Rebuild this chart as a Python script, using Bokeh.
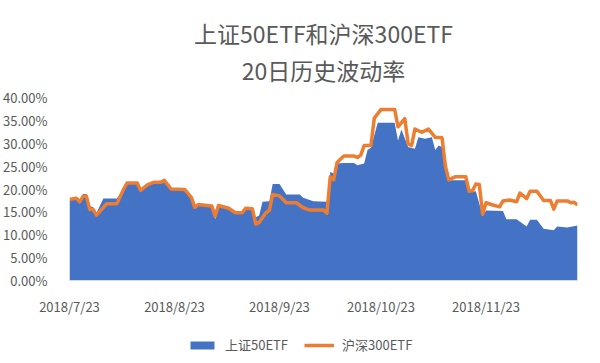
import pandas as pd
from bokeh.plotting import figure
from bokeh.layouts import column
from bokeh.models import Range1d, FixedTicker, NumeralTickFormatter, Title, Legend, LegendItem
from bokeh.embed import file_html
from bokeh.resources import INLINE

# ---- data ----
title_1 = "上证50ETF和沪深300ETF"
title_2 = "20日历史波动率"
name_sz50 = "上证50ETF"
name_hs300 = "沪深300ETF"

dates_hs300 = [
    "2018-07-23", "2018-07-25", "2018-07-26", "2018-07-27", "2018-07-28", "2018-07-29", "2018-07-30",
    "2018-07-31", "2018-08-03", "2018-08-06", "2018-08-08", "2018-08-09", "2018-08-12", "2018-08-13",
    "2018-08-15", "2018-08-17", "2018-08-19", "2018-08-20", "2018-08-22", "2018-08-26", "2018-08-28",
    "2018-08-29", "2018-08-30", "2018-09-03", "2018-09-04", "2018-09-05", "2018-09-08", "2018-09-10",
    "2018-09-12", "2018-09-13", "2018-09-15", "2018-09-16", "2018-09-17", "2018-09-19", "2018-09-20",
    "2018-09-21", "2018-09-23", "2018-09-25", "2018-09-28", "2018-09-30", "2018-10-02", "2018-10-06",
    "2018-10-07", "2018-10-08", "2018-10-09", "2018-10-10", "2018-10-12", "2018-10-15", "2018-10-16",
    "2018-10-17", "2018-10-18", "2018-10-20", "2018-10-21", "2018-10-23", "2018-10-27", "2018-10-28",
    "2018-10-30", "2018-10-31", "2018-11-01", "2018-11-02", "2018-11-04", "2018-11-06", "2018-11-08",
    "2018-11-10", "2018-11-11", "2018-11-12", "2018-11-14", "2018-11-17", "2018-11-18", "2018-11-19",
    "2018-11-20", "2018-11-21", "2018-11-22", "2018-11-23", "2018-11-25", "2018-11-27", "2018-11-28",
    "2018-11-30", "2018-12-02", "2018-12-03", "2018-12-05", "2018-12-06", "2018-12-08", "2018-12-10",
    "2018-12-12", "2018-12-13", "2018-12-14", "2018-12-17", "2018-12-18", "2018-12-19", "2018-12-20",
]
vol_hs300 = [
    17.7, 18.0, 17.2, 18.4, 18.4, 15.5, 15.5,
    14.3, 16.8, 16.8, 20.0, 21.3, 21.3, 19.7,
    20.9, 21.5, 21.5, 21.9, 20.0, 19.9, 18.1,
    16.0, 16.6, 16.3, 14.1, 16.4, 15.8, 14.8,
    14.8, 15.8, 15.7, 12.3, 12.7, 14.8, 15.3,
    18.8, 18.5, 17.0, 17.0, 15.9, 15.4, 15.4,
    14.7, 22.7, 22.0, 25.8, 27.2, 27.2, 26.9,
    27.4, 29.5, 29.5, 35.5, 37.4, 37.4, 33.6,
    35.4, 29.9, 29.5, 33.1, 32.4, 33.1, 31.3,
    31.2, 25.0, 22.0, 22.7, 22.7, 19.5, 19.6,
    21.1, 21.0, 14.5, 17.0, 16.5, 16.1, 17.4,
    17.6, 17.2, 19.1, 17.9, 19.5, 19.5, 17.5,
    17.5, 15.6, 17.4, 17.4, 17.0, 17.1, 16.5,
]

dates_sz50 = [
    "2018-07-23", "2018-07-25", "2018-07-26", "2018-07-27", "2018-07-28", "2018-07-29", "2018-07-30",
    "2018-07-31", "2018-08-02", "2018-08-06", "2018-08-08", "2018-08-09", "2018-08-12", "2018-08-13",
    "2018-08-15", "2018-08-17", "2018-08-19", "2018-08-20", "2018-08-22", "2018-08-26", "2018-08-28",
    "2018-08-29", "2018-08-30", "2018-09-03", "2018-09-04", "2018-09-05", "2018-09-08", "2018-09-10",
    "2018-09-12", "2018-09-13", "2018-09-15", "2018-09-16", "2018-09-17", "2018-09-18", "2018-09-20",
    "2018-09-21", "2018-09-23", "2018-09-25", "2018-09-29", "2018-09-30", "2018-10-03", "2018-10-07",
    "2018-10-08", "2018-10-09", "2018-10-10", "2018-10-12", "2018-10-15", "2018-10-16", "2018-10-18",
    "2018-10-19", "2018-10-20", "2018-10-22", "2018-10-27", "2018-10-28", "2018-10-29", "2018-10-31",
    "2018-11-02", "2018-11-03", "2018-11-05", "2018-11-07", "2018-11-08", "2018-11-09", "2018-11-10",
    "2018-11-11", "2018-11-12", "2018-11-17", "2018-11-18", "2018-11-20", "2018-11-22", "2018-11-23",
    "2018-11-28", "2018-11-29", "2018-12-02", "2018-12-05", "2018-12-06", "2018-12-08", "2018-12-10",
    "2018-12-13", "2018-12-14", "2018-12-17", "2018-12-20",
]
vol_sz50 = [
    17.6, 17.8, 17.0, 18.9, 18.9, 16.3, 16.0,
    14.8, 17.9, 17.9, 20.0, 21.5, 21.5, 19.6,
    20.9, 21.5, 21.5, 21.8, 19.8, 19.6, 18.0,
    16.0, 16.3, 16.2, 13.4, 16.2, 15.7, 14.8,
    14.8, 15.6, 15.5, 13.8, 14.2, 17.2, 17.3,
    21.1, 21.1, 18.8, 18.8, 18.1, 17.3, 17.2,
    23.7, 23.4, 25.6, 25.7, 25.7, 25.2, 25.6,
    28.5, 29.0, 34.5, 34.5, 30.6, 33.0, 29.2,
    28.8, 31.3, 31.0, 31.3, 28.5, 29.5, 29.2,
    24.5, 21.9, 21.9, 19.3, 19.5, 14.1, 15.3,
    15.2, 13.4, 13.4, 11.8, 13.3, 13.3, 11.3,
    11.0, 11.8, 11.6, 12.0,
]

x_start = "2018-07-23"
x_end = "2018-12-20"
tick_dates = ["2018-07-23", "2018-08-23", "2018-09-23", "2018-10-23", "2018-11-23"]
tick_labels = ["2018/7/23", "2018/8/23", "2018/9/23", "2018/10/23", "2018/11/23"]
y_ticks = [0.0, 0.05, 0.10, 0.15, 0.20, 0.25, 0.30, 0.35, 0.40]

# ---- styling ----
FONT = "Noto Sans CJK SC"
TXT = "#595959"
BLUE = "#4472C4"
ORANGE = "#ED7D31"

xh = pd.to_datetime(dates_hs300)
yh = [v / 100 for v in vol_hs300]
xs = pd.to_datetime(dates_sz50)
ys = [v / 100 for v in vol_sz50]

# ---------------- main chart ----------------
p = figure(
    width=584, height=318, title=None,
    x_axis_type="datetime",
    x_range=Range1d(pd.Timestamp(x_start), pd.Timestamp(x_end)),
    y_range=Range1d(0, 0.40),
    output_backend="svg", toolbar_location=None,
    min_border_left=64, min_border_right=7, min_border_top=97, min_border_bottom=32,
)
p.outline_line_color = None
p.background_fill_color = "white"
p.border_fill_color = "white"
p.xgrid.visible = False
p.ygrid.visible = False

p.varea(x=xs, y1=0, y2=ys, fill_color=BLUE, fill_alpha=1.0)
p.line(x=xh, y=yh, line_color=ORANGE, line_width=3.5, line_join="round")

# titles (added nearest-first)
t2 = Title(text=title_2, align="center", text_font_size="23px", text_color=TXT,
           text_font=FONT, text_font_style="normal", standoff=22)
p.add_layout(t2, "above")
t1 = Title(text=title_1, align="center", text_font_size="23px", text_color=TXT,
           text_font=FONT, text_font_style="normal", standoff=-21)
p.add_layout(t1, "above")

# x axis
tick_ms = [int(pd.Timestamp(d).value // 10**6) for d in tick_dates]
p.xaxis.ticker = FixedTicker(ticks=tick_ms)
p.xaxis.major_label_overrides = {ms: lab for ms, lab in zip(tick_ms, tick_labels)}
p.xaxis.axis_line_color = "#D9D9D9"
p.xaxis.axis_line_width = 1
p.xaxis.major_tick_line_color = None
p.xaxis.minor_tick_line_color = None
p.xaxis.major_label_standoff = 10
p.xaxis.major_label_text_font = FONT
p.xaxis.major_label_text_font_size = "13px"
p.xaxis.major_label_text_color = TXT

# y axis
p.yaxis.ticker = FixedTicker(ticks=y_ticks)
p.yaxis.formatter = NumeralTickFormatter(format="0.00%")
p.yaxis.axis_line_color = None
p.yaxis.major_tick_line_color = None
p.yaxis.minor_tick_line_color = None
p.yaxis.major_label_standoff = 16
p.yaxis.major_label_text_font = FONT
p.yaxis.major_label_text_font_size = "13px"
p.yaxis.major_label_text_color = TXT

# ---------------- legend strip ----------------
# The strip shows only the legend; its renderers use the same series,
# which fall outside this strip's 0..1 ranges and are therefore not drawn.
pl = figure(width=584, height=36, x_axis_type=None, y_axis_type=None,
            x_range=Range1d(0, 1), y_range=Range1d(0, 1),
            output_backend="svg", toolbar_location=None, min_border=0)
pl.outline_line_color = None
pl.background_fill_color = "white"
pl.border_fill_color = "white"
k_sz = pl.varea(x=xs, y1=0, y2=ys, fill_color=BLUE, fill_alpha=1.0)
k_hs = pl.line(x=xh, y=yh, line_color=ORANGE, line_width=3.5)

lg = Legend(items=[LegendItem(label=name_sz50, renderers=[k_sz]),
                   LegendItem(label=name_hs300, renderers=[k_hs])])
lg.orientation = "horizontal"
lg.location = (118, 0)
lg.border_line_color = None
lg.background_fill_alpha = 0
lg.padding = 0
lg.margin = 0
lg.spacing = 16
lg.glyph_width = 30
lg.glyph_height = 10
lg.label_standoff = 8
lg.label_text_font = FONT
lg.label_text_font_size = "13px"
lg.label_text_color = TXT
pl.add_layout(lg)

open("out.html", "w").write(file_html(column(p, pl, spacing=0), INLINE))
